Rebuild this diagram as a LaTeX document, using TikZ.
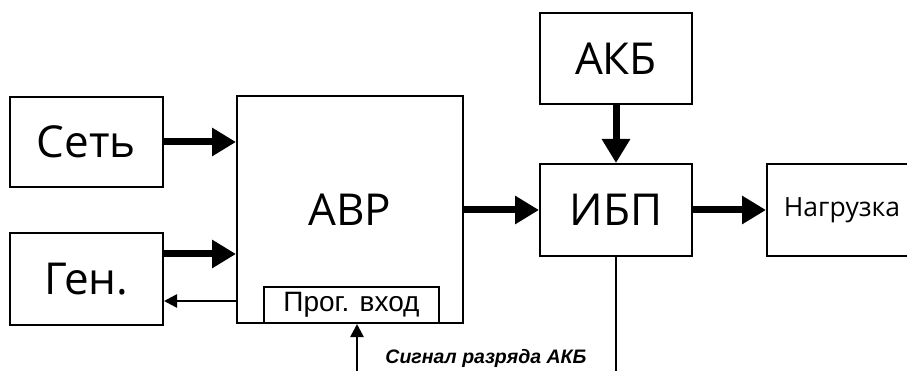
\documentclass[tikz,border=0pt]{standalone}
\usepackage{fontspec}
\setmainfont{Open Sans}
\newfontfamily\arialf{Liberation Sans}
\usetikzlibrary{arrows.meta}
\begin{document}
\begin{tikzpicture}[x=1pt,y=-1pt,
  blk/.style={draw, line width=2pt, rectangle, inner sep=0pt, align=center},
  big/.style={font=\fontsize{44}{48}\selectfont},
  thick arrow/.style={line width=7pt, -{Triangle[length=24pt,width=27pt]}},
  thin arrow/.style={line width=2.5pt, -{Triangle[length=13pt,width=13pt]}},
  plain line/.style={line width=2pt}]
\useasboundingbox (0,0) rectangle (907,371);
\clip (0,0) rectangle (907,371);
\node[blk, big, minimum width=153pt, minimum height=90pt] (set) at (86.5,142) {Сеть};
\node[blk, big, minimum width=153pt, minimum height=92pt] (gen) at (86.5,279) {Ген.};
\node[blk, big, minimum width=226pt, minimum height=227pt] (avr) at (350,209.5) {АВР};
\node[blk, minimum width=175pt, minimum height=36pt, font=\arialf\fontsize{28}{30}\selectfont] (prog) at (351.5,305) {Прог. вход};
\node[blk, big, minimum width=152pt, minimum height=91pt] (akb) at (616,58.5) {АКБ};
\node[blk, big, minimum width=152pt, minimum height=92pt] (ibp) at (616,210) {ИБП};
\node[blk, minimum width=150pt, minimum height=92pt, font=\fontsize{26.5}{28}\selectfont] (load) at (842,210) {Нагрузка};
\coordinate (bk) at (0,301);
\coordinate (sig) at (357,372);
\coordinate (bot) at (0,372);
\draw[thick arrow] (set.east) -- (set.east -| avr.west);
\draw[thick arrow] (gen.east |- 0,254) -- (avr.west |- 0,254);
\draw[thin arrow] (avr.west |- bk) -- (gen.east |- bk);
\draw[thick arrow] (avr.east |- ibp.west) -- (ibp.west);
\draw[thick arrow] (akb.south) -- (ibp.north);
\draw[thick arrow] (ibp.east) -- (load.west);
\draw[thin arrow] (sig) -- (sig |- prog.south);
\draw[plain line] (ibp.south) -- (ibp.south |- bot);
\node[font=\arialf\bfseries\itshape\fontsize{19.5}{22}\selectfont] (lbl) at (486,358) {Сигнал разряда АКБ};
\end{tikzpicture}
\end{document}
